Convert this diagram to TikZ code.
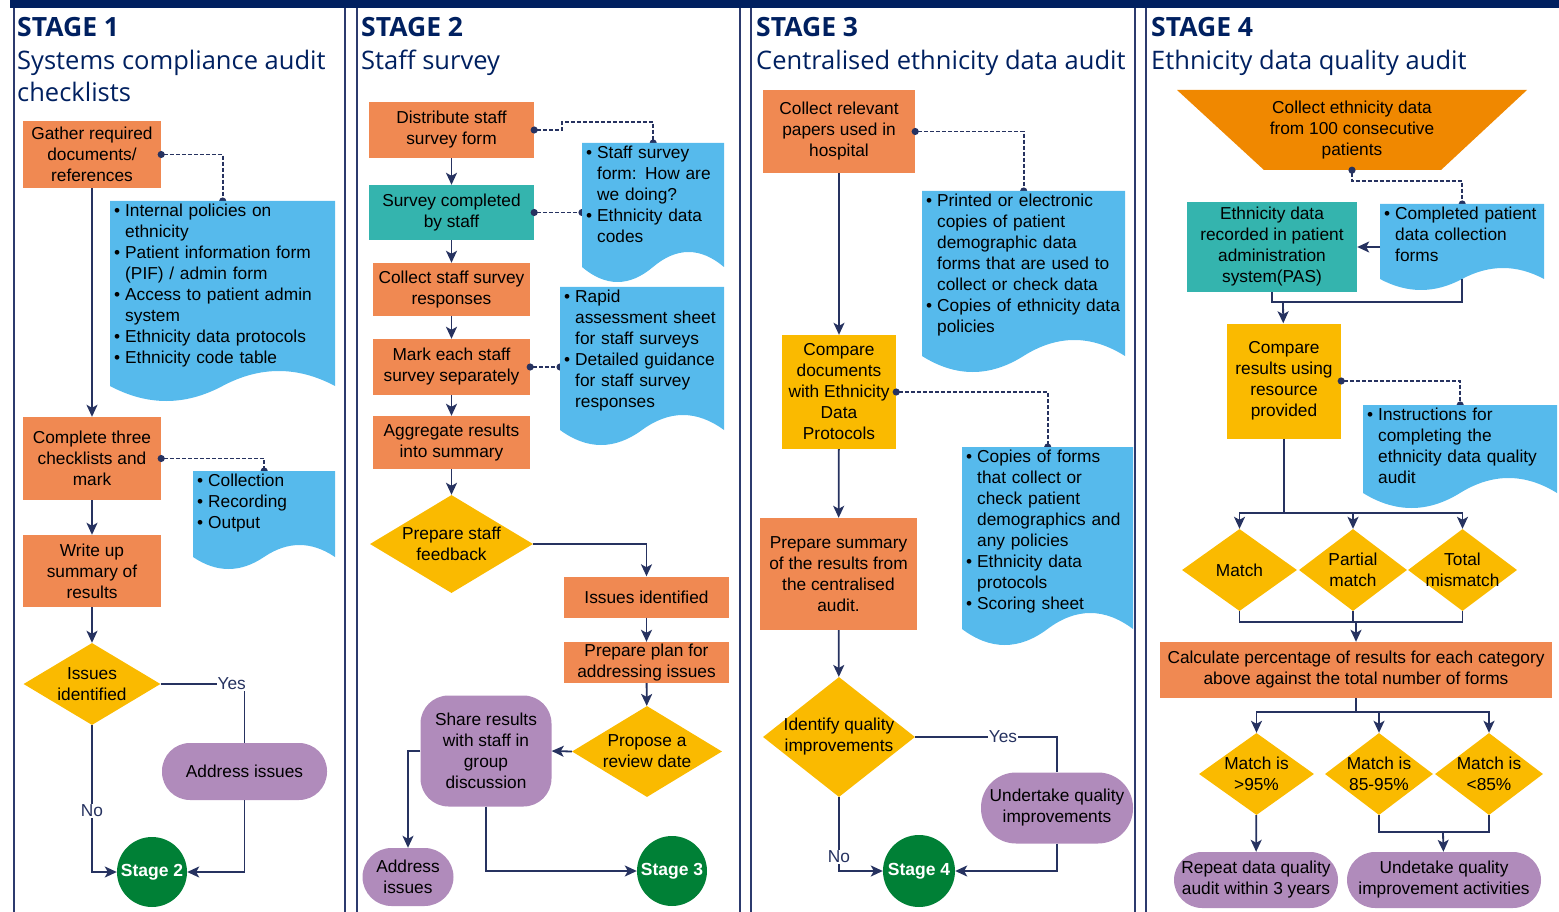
\documentclass[tikz,border=0pt]{standalone}
\usepackage{fontspec}
\setmainfont{Liberation Sans}
\newfontfamily\hdfont{Open Sans}
\usepackage{tikz}
\usetikzlibrary{shapes.geometric,arrows.meta}
\pgfdeclarelayer{front}
\pgfsetlayers{main,front}
\setlength{\parindent}{0pt}
\newcommand{\bul}[1]{\mbox{\makebox[11pt][l]{\textbullet}#1}}
\newcommand{\ind}[1]{\mbox{\hspace{11pt}#1}}
\newcommand{\docshape}[5]{%
  \fill[cdoc] (#1,#2) -- (#3,#2) -- (#3,#4)
    .. controls ({#3-(#3-#1)/6},{#4-4/3*#5}) and ({#3-(#3-#1)/3},{#4-4/3*#5}) .. ({(#1+#3)/2},#4)
    .. controls ({#1+(#3-#1)/3},{#4+4/3*#5}) and ({#1+(#3-#1)/6},{#4+4/3*#5}) .. (#1,#4) -- cycle;}

\begin{document}
\begin{tikzpicture}[x=1pt,y=-1pt,
  every node/.style={font=\fontsize{17.3}{21}\selectfont},
  obox/.style={rectangle,fill=cbox,inner sep=0pt,align=center},
  tbox/.style={obox,fill=cteal},
  ybox/.style={obox,fill=cyel},
  pill/.style={obox,fill=cpurp,rounded corners=28pt},
  dia/.style={diamond,fill=cyel,inner sep=0pt},
  stg/.style={circle,fill=cgreen,inner sep=0pt,minimum size=70pt,text=white,font=\fontsize{17.5}{20}\selectfont\bfseries},
  doctext/.style={anchor=north west,align=left,inner xsep=4pt,inner ysep=3pt},
  lbl/.style={fill=white,inner sep=1pt,text=cline},
  link/.style={draw=cline,line width=1.8pt},
  conn/.style={link,-{Stealth[length=12pt,width=11pt,inset=3pt]}},
  dconn/.style={draw=cline,line width=1.9pt,dash pattern=on 4pt off 2pt,{Circle[length=7pt]}-{Circle[length=7pt]},shorten <=-3.5pt,shorten >=-3.5pt},
  hd/.style={anchor=base west,inner sep=0pt,text=chead,font=\hdfont\bfseries\fontsize{26.5}{30}\selectfont},
  sub/.style={anchor=base west,inner sep=0pt,align=left,text=chead,font=\hdfont\fontsize{25.5}{32}\selectfont}]
\definecolor{cbox}{RGB}{240,137,82}
\definecolor{cteal}{RGB}{52,180,174}
\definecolor{cdoc}{RGB}{86,186,236}
\definecolor{cyel}{RGB}{250,186,0}
\definecolor{cpurp}{RGB}{176,139,187}
\definecolor{cgreen}{RGB}{0,128,54}
\definecolor{ctrap}{RGB}{240,136,0}
\definecolor{cline}{RGB}{38,50,96}
\definecolor{chead}{RGB}{0,32,96}
\definecolor{cframe}{RGB}{44,58,110}
\useasboundingbox (0,0) rectangle (1559,912);
\fill[chead] (10,0) rectangle (1559,8);
\foreach \px in {14,345,357,740,751,1135,1146}
  \draw[cframe,line width=2.4pt] (\px,8) -- (\px,912);

\node[hd] (h1) at (17,37) {STAGE 1};
\node[sub] (h1s) at (17,102) {Systems compliance audit\\checklists};
\node[hd] (h2) at (361,37) {STAGE 2};
\node[sub] (h2s) at (361,70) {Staff survey};
\node[hd] (h3) at (756,37) {STAGE 3};
\node[sub] (h3s) at (756,70) {Centralised ethnicity data audit};
\node[hd] (h4) at (1151,37) {STAGE 4};
\node[sub] (h4s) at (1151,70) {Ethnicity data quality audit};

\node[obox,minimum width=138pt,minimum height=67pt] (gather) at (92,154.5) {Gather required\\documents/\\references};
\node[obox,minimum width=138pt,minimum height=83pt] (complete) at (92,458.5) {Complete three\\checklists and\\mark};
\node[obox,minimum width=138pt,minimum height=72pt] (writeup) at (92,571) {Write up\\summary of\\results};
\node[dia,minimum width=137pt,minimum height=82pt,label={[align=center]center:Issues\\identified}] (issues1) at (92,684) {};
\node[pill,minimum width=165pt,minimum height=57pt] (addr1) at (244.5,771.5) {Address issues};
\node[stg] (stage2) at (152,872) {Stage 2};

\node[obox,minimum width=165pt,minimum height=56pt] (distr) at (451.5,130) {Distribute staff\\survey form};
\node[tbox,minimum width=165pt,minimum height=55pt] (survey) at (451.5,212.5) {Survey completed\\by staff};
\node[obox,minimum width=157pt,minimum height=53pt] (collect2) at (451.5,289.5) {Collect staff survey\\responses};
\node[obox,minimum width=157pt,minimum height=56pt] (mark) at (451.5,367) {Mark each staff\\survey separately};
\node[obox,minimum width=157pt,minimum height=53pt] (aggr) at (451.5,442.5) {Aggregate results\\into summary};
\node[dia,minimum width=163pt,minimum height=98pt,label={[align=center]center:Prepare staff\\feedback}] (feedback) at (451.5,544) {};
\node[obox,minimum width=165pt,minimum height=41pt] (issues2) at (646.5,597) {Issues identified};
\node[obox,minimum width=165pt,minimum height=41pt] (plan) at (646.5,662.5) {Prepare plan for\\addressing issues};
\node[dia,minimum width=150pt,minimum height=91pt,label={[align=center]center:Propose a\\review date}] (review) at (647,751.5) {};
\node[pill,minimum width=131pt,minimum height=111pt] (share) at (486,751) {Share results\\with staff in\\group\\discussion};
\node[pill,minimum width=91pt,minimum height=58pt,rounded corners=29pt] (addr2) at (408,877) {Address\\issues};
\node[stg] (stage3) at (672,871) {Stage 3};

\node[obox,minimum width=152pt,minimum height=83pt] (collect3) at (839,131.5) {Collect relevant\\papers used in\\hospital};
\node[ybox,minimum width=114pt,minimum height=114pt] (compare3) at (839,392) {Compare\\documents\\with Ethnicity\\Data\\Protocols};
\node[obox,minimum width=157pt,minimum height=112pt] (summary3) at (838.5,574) {Prepare summary\\of the results from\\the centralised\\audit.};
\node[dia,minimum width=152pt,minimum height=120pt,label={[align=center]center:Identify quality\\improvements}] (identify) at (839,737) {};
\node[pill,minimum width=152pt,minimum height=71pt,rounded corners=35pt] (improve) at (1057,808) {Undertake quality\\improvements};
\node[stg,minimum size=72pt] (stage4) at (919,871) {Stage 4};

\fill[ctrap] (1177,90) -- (1527,90) -- (1441,170) -- (1264,170) -- cycle;
\node[align=center,inner sep=0pt,minimum height=80pt] (collect4) at (1352,130) {Collect ethnicity data\\from 100 consecutive\\patients};
\node[tbox,minimum width=170pt,minimum height=90pt] (recorded) at (1272,247) {Ethnicity data\\recorded in patient\\administration\\system(PAS)};
\node[ybox,minimum width=114pt,minimum height=115pt] (compare4) at (1284,381) {Compare\\results using\\resource\\provided};
\node[dia,minimum width=115pt,minimum height=82pt,label={[align=center]center:Match}] (match) at (1239.5,570) {};
\node[dia,minimum width=108pt,minimum height=82pt,label={[align=center]center:Partial\\match}] (partial) at (1353,570) {};
\node[dia,minimum width=109pt,minimum height=82pt,label={[align=center]center:Total\\mismatch}] (mismatch) at (1462.5,570) {};
\node[obox,minimum width=392pt,minimum height=56pt] (calc) at (1356,670) {Calculate percentage of results for each category\\above against the total number of forms};
\node[dia,minimum width=115pt,minimum height=82pt,label={[align=center]center:Match is\\>95\%}] (q1) at (1256.5,774) {};
\node[dia,minimum width=108pt,minimum height=82pt,label={[align=center]center:Match is\\85-95\%}] (q2) at (1379,774) {};
\node[dia,minimum width=108pt,minimum height=82pt,label={[align=center]center:Match is\\<85\%}] (q3) at (1489,774) {};
\node[pill,minimum width=164pt,minimum height=56pt] (repeat) at (1256,880) {Repeat data quality\\audit within 3 years};
\node[pill,minimum width=194pt,minimum height=56pt] (undertake) at (1444,880) {Undetake quality\\improvement activities};

\begin{pgfonlayer}{front}
\node[doctext,text width=217pt] (doc1) at (110,201) {\bul{Internal policies on}\\\ind{ethnicity}\\\bul{Patient information form}\\\ind{(PIF) / admin form}\\\bul{Access to patient admin}\\\ind{system}\\\bul{Ethnicity data protocols}\\\bul{Ethnicity code table}};
\node[doctext,text width=134pt] (doc2) at (193,471) {\bul{Collection}\\\bul{Recording}\\\bul{Output}};
\node[doctext,text width=134pt] (doc3) at (582,143) {\bul{Staff survey}\\\ind{form: How are}\\\ind{we doing?}\\\bul{Ethnicity data}\\\ind{codes}};
\node[doctext,text width=156pt] (doc4) at (560,287) {\bul{Rapid}\\\ind{assessment sheet}\\\ind{for staff surveys}\\\bul{Detailed guidance}\\\ind{for staff survey}\\\ind{responses}};
\node[doctext,text width=195pt] (doc5) at (922,191) {\bul{Printed or electronic}\\\ind{copies of patient}\\\ind{demographic data}\\\ind{forms that are used to}\\\ind{collect or check data}\\\bul{Copies of ethnicity data}\\\ind{policies}};
\node[doctext,text width=163pt] (doc6) at (962,447) {\bul{Copies of forms}\\\ind{that collect or}\\\ind{check patient}\\\ind{demographics and}\\\ind{any policies}\\\bul{Ethnicity data}\\\ind{protocols}\\\bul{Scoring sheet}};
\node[doctext,text width=156pt] (doc7) at (1380,204) {\bul{Completed patient}\\\ind{data collection}\\\ind{forms}};
\node[doctext,text width=186pt] (doc8) at (1363,405) {\bul{Instructions for}\\\ind{completing the}\\\ind{ethnicity data quality}\\\ind{audit}};
\end{pgfonlayer}

\draw[dconn] (gather.east) -| (doc1.north);
\draw[dconn] (complete.east) -| (doc2.north);
\draw[dconn] (distr.east) -- ++(28,0) -- ++(0,-8) -| (doc3.north);
\draw[dconn] (survey.east) -- (survey.east -| doc3.west);
\draw[dconn] (mark.east) -- (mark.east -| doc4.west);
\draw[dconn] (collect3.east) -| (doc5.north);
\draw[dconn] (compare3.east) -| (doc6.north);
\draw[dconn] (collect4.south) -- ++(0,11) -| (doc7.north);
\draw[dconn] (compare4.east) -| (doc8.north);

\docshape{110}{201}{335}{386}{15}
\docshape{193}{471}{335}{557}{12}
\docshape{582}{143}{724}{267}{15}
\docshape{560}{287}{724}{430}{15}
\docshape{922}{191}{1125}{356}{16}
\docshape{962}{447}{1133}{629}{16}
\docshape{1380}{204}{1544}{279}{11}
\docshape{1363}{405}{1557}{493}{15}

\draw[conn] (gather) -- (complete);
\draw[conn] (complete) -- (writeup);
\draw[conn] (writeup) -- (issues1);
\draw[link] (issues1.east) -| (addr1.north);
\node[lbl,anchor=east] (yes1) at (247,684) {Yes};
\draw[conn] (addr1.south) |- (stage2.east);
\draw[conn] (issues1.south) |- (stage2.west);
\node[lbl] (no1) at (92,811) {No};

\draw[conn] (distr) -- (survey);
\draw[conn] (survey) -- (collect2);
\draw[conn] (collect2) -- (mark);
\draw[conn] (mark) -- (aggr);
\draw[conn] (aggr) -- (feedback);
\draw[conn] (feedback.east) -| (issues2.north);
\draw[conn] (issues2) -- (plan);
\draw[conn] (plan) -- (review);
\draw[conn] (review.west) -- (share.east);
\draw[conn] (share.west) -| (addr2.north);
\draw[conn] (share.south) |- (stage3.west);

\draw[conn] (collect3) -- (compare3);
\draw[conn] (compare3) -- (summary3);
\draw[conn] (summary3) -- (identify);
\draw[link] (identify.east) -| (improve.north);
\node[lbl] (yes3) at (1003,737) {Yes};
\draw[conn] (improve.south) |- (stage4.east);
\draw[conn] (identify.south) |- (stage4.west);
\node[lbl] (no3) at (839,857) {No};

\coordinate (doc7b) at (1462,279);
\coordinate (join4) at (1283,302);
\coordinate (split4) at (1284,513);
\coordinate (merge4) at (1356,622);
\coordinate (split5) at (1356,712);
\coordinate (merge5) at (1443,832);
\draw[conn] (doc7.west |- recorded.east) -- (recorded.east);
\draw[link] (recorded.south) -- ++(0,10) -| (doc7b);
\draw[conn] (join4) -- (compare4);
\draw[link] (compare4.south) -- (split4);
\draw[conn] (split4) -| (match.north);
\draw[conn] (split4) -| (partial.north);
\draw[conn] (split4) -| (mismatch.north);
\draw[link] (match.south) -- ++(0,11) -| (mismatch.south);
\draw[link] (partial.south) -- ++(0,11);
\draw[conn] (merge4) -- (calc);
\draw[link] (calc.south) -- (split5);
\draw[conn] (split5) -| (q1.north);
\draw[conn] (split5) -| (q2.north);
\draw[conn] (split5) -| (q3.north);
\draw[conn] (q1) -- (repeat);
\draw[link] (q2.south) -- ++(0,17) -| (q3.south);
\draw[conn] (merge5) -- (undertake);
\end{tikzpicture}
\end{document}
